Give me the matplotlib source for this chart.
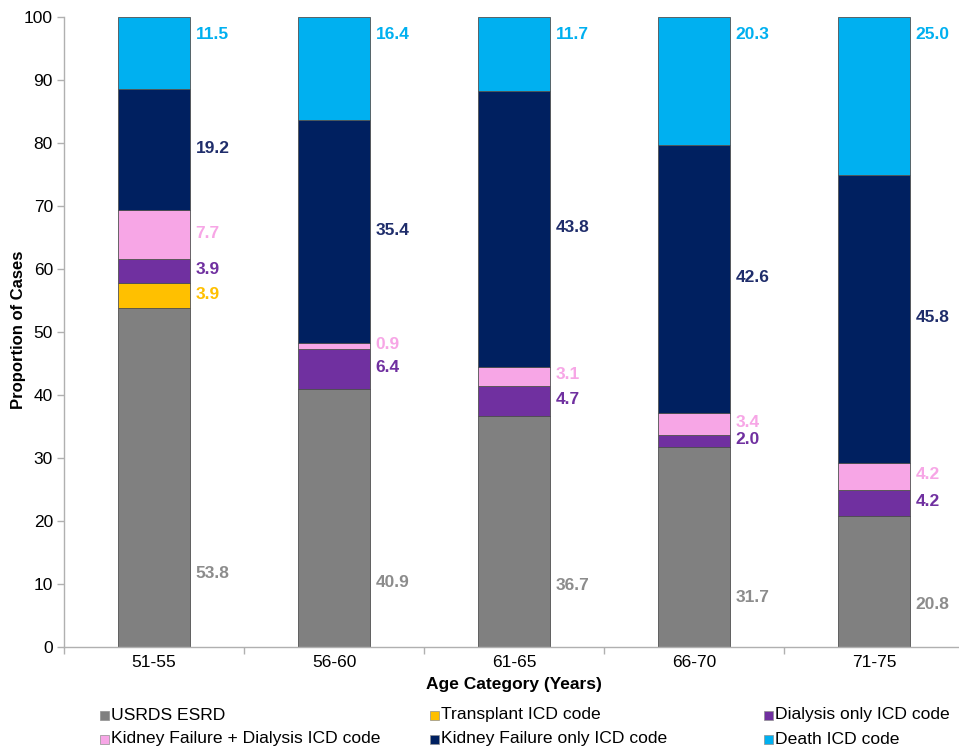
import matplotlib
matplotlib.use("Agg")
import matplotlib.pyplot as plt
from matplotlib.patches import Rectangle

plt.rcParams['font.family'] = ['Liberation Sans', 'DejaVu Sans']

# age groups and the share of cases (%) captured by each source
ages = ['51-55', '56-60', '61-65', '66-70', '71-75']
usrds_esrd = [53.8, 40.9, 36.7, 31.7, 20.8]
transplant = [3.9, 0, 0, 0, 0]
dialysis_only = [3.9, 6.4, 4.7, 2.0, 4.2]
kf_dialysis = [7.7, 0.9, 3.1, 3.4, 4.2]
kf_only = [19.2, 35.4, 43.8, 42.6, 45.8]
death = [11.5, 16.4, 11.7, 20.3, 25.0]

series = [
    ('USRDS ESRD', usrds_esrd, '#808080', '#8c8c8c'),
    ('Transplant ICD code', transplant, '#ffc000', '#ffc000'),
    ('Dialysis only ICD code', dialysis_only, '#7030a0', '#7030a0'),
    ('Kidney Failure + Dialysis ICD code', kf_dialysis, '#f7a6e6', '#f7a6e6'),
    ('Kidney Failure only ICD code', kf_only, '#002060', '#1f2d6b'),
    ('Death ICD code', death, '#00b0f0', '#00b0f0'),
]

# heights of the ESRD value labels (they sit low, not mid-segment)
esrd_label_y = [11.7, 10.2, 9.8, 7.9, 6.7]
death_label_y = 97.3

fig = plt.figure(figsize=(9.59, 7.52), dpi=100)
ax = fig.add_axes([64 / 959, 105 / 752, 900 / 959, 630 / 752])

x = list(range(len(ages)))
bottom = [0.0] * len(ages)
for k, (name, vals, col, tcol) in enumerate(series):
    ax.bar(x, vals, width=0.405, bottom=bottom, color=col,
           edgecolor='#505050', linewidth=0.6, zorder=2)
    for i, v in enumerate(vals):
        if v == 0:
            continue
        if k == 0:
            ly = esrd_label_y[i]
        elif k == len(series) - 1:
            ly = death_label_y
        else:
            ly = bottom[i] + v / 2 + 0.25
        ax.text(i + 0.23, ly, f'{v:.1f}', color=tcol, fontsize=12.5,
                fontweight='bold', ha='left', va='center')
    bottom = [b + v for b, v in zip(bottom, vals)]

ax.set_xlim(-0.5, 4.5)
ax.set_ylim(0, 100)
ax.set_yticks(range(0, 101, 10))
ax.set_xticks(x)
ax.set_xticklabels(ages)
ax.set_xticks([i + 0.5 for i in range(-1, 5)], minor=True)
ax.tick_params(axis='x', which='major', length=0, labelsize=12.5, pad=6)
ax.tick_params(axis='x', which='minor', length=5, color='#b0b0b0', width=1)
ax.tick_params(axis='y', length=5, color='#b0b0b0', width=1, labelsize=12.5, pad=3)

for s in ['top', 'right']:
    ax.spines[s].set_visible(False)
for s in ['left', 'bottom']:
    ax.spines[s].set_color('#b0b0b0')
    ax.spines[s].set_linewidth(1)

ax.set_xlabel('Age Category (Years)', fontsize=12.5, fontweight='bold', labelpad=5)
ax.set_ylabel('Proportion of Cases', fontsize=12, fontweight='bold')
ax.yaxis.set_label_coords(-38 / 900, 0.503)

# legend, laid out by hand in three columns
col_x = [100, 430, 764]
row_y = [715, 739]
for n, (name, _, col, _) in enumerate(series):
    cx = col_x[n % 3]
    cy = row_y[n // 3]
    fig.add_artist(Rectangle((cx / 959, (752 - cy - 4.5) / 752), 9 / 959, 9 / 752,
                             transform=fig.transFigure, facecolor=col,
                             edgecolor='#909090', linewidth=0.5))
    fig.text((cx + 11) / 959, (752 - cy) / 752, name, fontsize=12.6,
             ha='left', va='center')

fig.savefig('out.png', dpi=100)
